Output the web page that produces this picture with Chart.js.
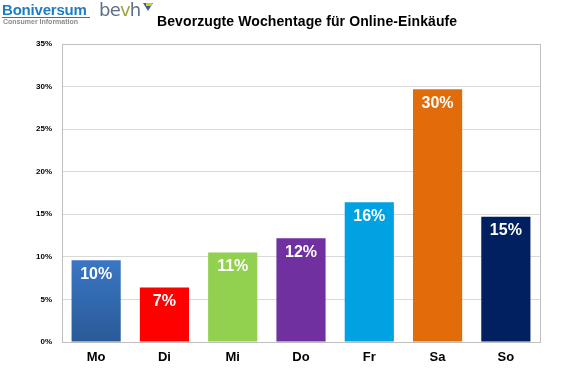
<!DOCTYPE html>
<html>
<head>
<meta charset="utf-8">
<script src="https://cdn.jsdelivr.net/npm/chart.js@4"></script>
<style>
  body { margin: 0; background: #fff; }
  #wrap { position: relative; width: 570px; height: 370px; }
  #c { position: absolute; left: 0; top: 0; }
  .logo1 { position: absolute; left: 2px; top: 1px; font: bold 15px "Liberation Sans", Arial, sans-serif; color: #1e7cc4; letter-spacing: -0.2px; }
  .logo1line { position: absolute; left: 2px; top: 17px; width: 88px; height: 1px; background: #1e7cc4; }
  .logo1sub { position: absolute; left: 3px; top: 18px; font: bold 7px "Liberation Sans", Arial, sans-serif; color: #8a8a8a; }
  .logo2 { position: absolute; left: 99px; top: -1px; font: 18px "DejaVu Sans", sans-serif; color: #5d6f8a; letter-spacing: -0.8px; }
  .logo2 span { color: #9aa63a; }
  .icon { position: absolute; left: 143px; top: 3px; width: 0; height: 0; border-left: 5px solid transparent; border-right: 5px solid transparent; border-top: 8px solid #3b5f9a; }
  .icon2 { position: absolute; left: 146px; top: 3px; width: 6px; height: 3px; background: #e4c21a; }
  .title { position: absolute; left: 157px; top: 13px; font: bold 14px "Liberation Sans", Arial, sans-serif; color: #000; letter-spacing: 0.1px; }
</style>
</head>
<body>
<div id="wrap">
  <canvas id="c" width="570" height="370"></canvas>
  <div class="logo1">Boniversum</div>
  <div class="logo1line"></div>
  <div class="logo1sub">Consumer Information</div>
  <div class="logo2">be<span>v</span>h</div>
  <div class="icon"></div>
  <div class="icon2"></div>
  <div class="title">Bevorzugte Wochentage für Online-Einkäufe</div>
</div>
<script>
const days = ["Mo", "Di", "Mi", "Do", "Fr", "Sa", "So"];
const shares = [9.6, 6.4, 10.5, 12.2, 16.4, 29.7, 14.7];
const shareLabels = ["10%", "7%", "11%", "12%", "16%", "30%", "15%"];
const barColors = ["#3a78c8", "#ff0000", "#92d050", "#7030a0", "#00a2e2", "#e36c0a", "#002060"];

// Mo bar has a blue gradient, others flat
function barFill(ctx) {
    const i = ctx.dataIndex;
    if (i !== 0) return barColors[i];
    const area = ctx.chart.chartArea;
    if (!area) return barColors[0];
    const g = ctx.chart.ctx.createLinearGradient(0, area.top + 200, 0, area.bottom);
    g.addColorStop(0, "#3d7ccc");
    g.addColorStop(1, "#2a5a98");
    return g;
}

const frame = {
    id: "frame",
    beforeDatasetsDraw(chart) {
        const a = chart.chartArea, c = chart.ctx;
        c.save();
        c.strokeStyle = "#bfbfbf";
        c.lineWidth = 1;
        c.strokeRect(a.left + 0.5, a.top + 0.5, a.right - a.left, a.bottom - a.top);
        c.restore();
    }
};

const valueLabels = {
    id: "valueLabels",
    afterDatasetsDraw(chart) {
        const c = chart.ctx;
        const meta = chart.getDatasetMeta(0);
        c.save();
        c.fillStyle = "#fff";
        c.font = "bold 16px 'Liberation Sans', Arial, sans-serif";
        c.textAlign = "center";
        c.textBaseline = "top";
        meta.data.forEach(function(bar, i) {
            c.fillText(shareLabels[i], bar.x, bar.y + 6);
        });
        c.restore();
    }
};

new Chart("c", {
    type: "bar",
    data: {
        labels: days,
        datasets: [{
            data: shares,
            backgroundColor: barFill,
            barPercentage: 0.72,
            categoryPercentage: 1
        }]
    },
    options: {
        responsive: false,
        animation: false,
        layout: { padding: { left: 0, right: 30, top: 44, bottom: 0 } },
        plugins: { legend: { display: false }, tooltip: { enabled: false } },
        scales: {
            x: {
                grid: { display: false },
                border: { display: false },
                ticks: { color: "#000", font: { family: "Liberation Sans", size: 13, weight: "bold" }, padding: 0 },
                afterFit(s) { s.height = 28; }
            },
            y: {
                min: 0, max: 35,
                grid: { color: "#d9d9d9", drawTicks: false },
                border: { display: false },
                ticks: {
                    stepSize: 5,
                    color: "#000",
                    padding: 10,
                    font: { family: "Liberation Sans", size: 8, weight: "bold" },
                    callback: function(v) { return v + "%"; }
                },
                afterFit(s) { s.width = 62; }
            }
        }
    },
    plugins: [frame, valueLabels]
});
</script>
</body>
</html>
